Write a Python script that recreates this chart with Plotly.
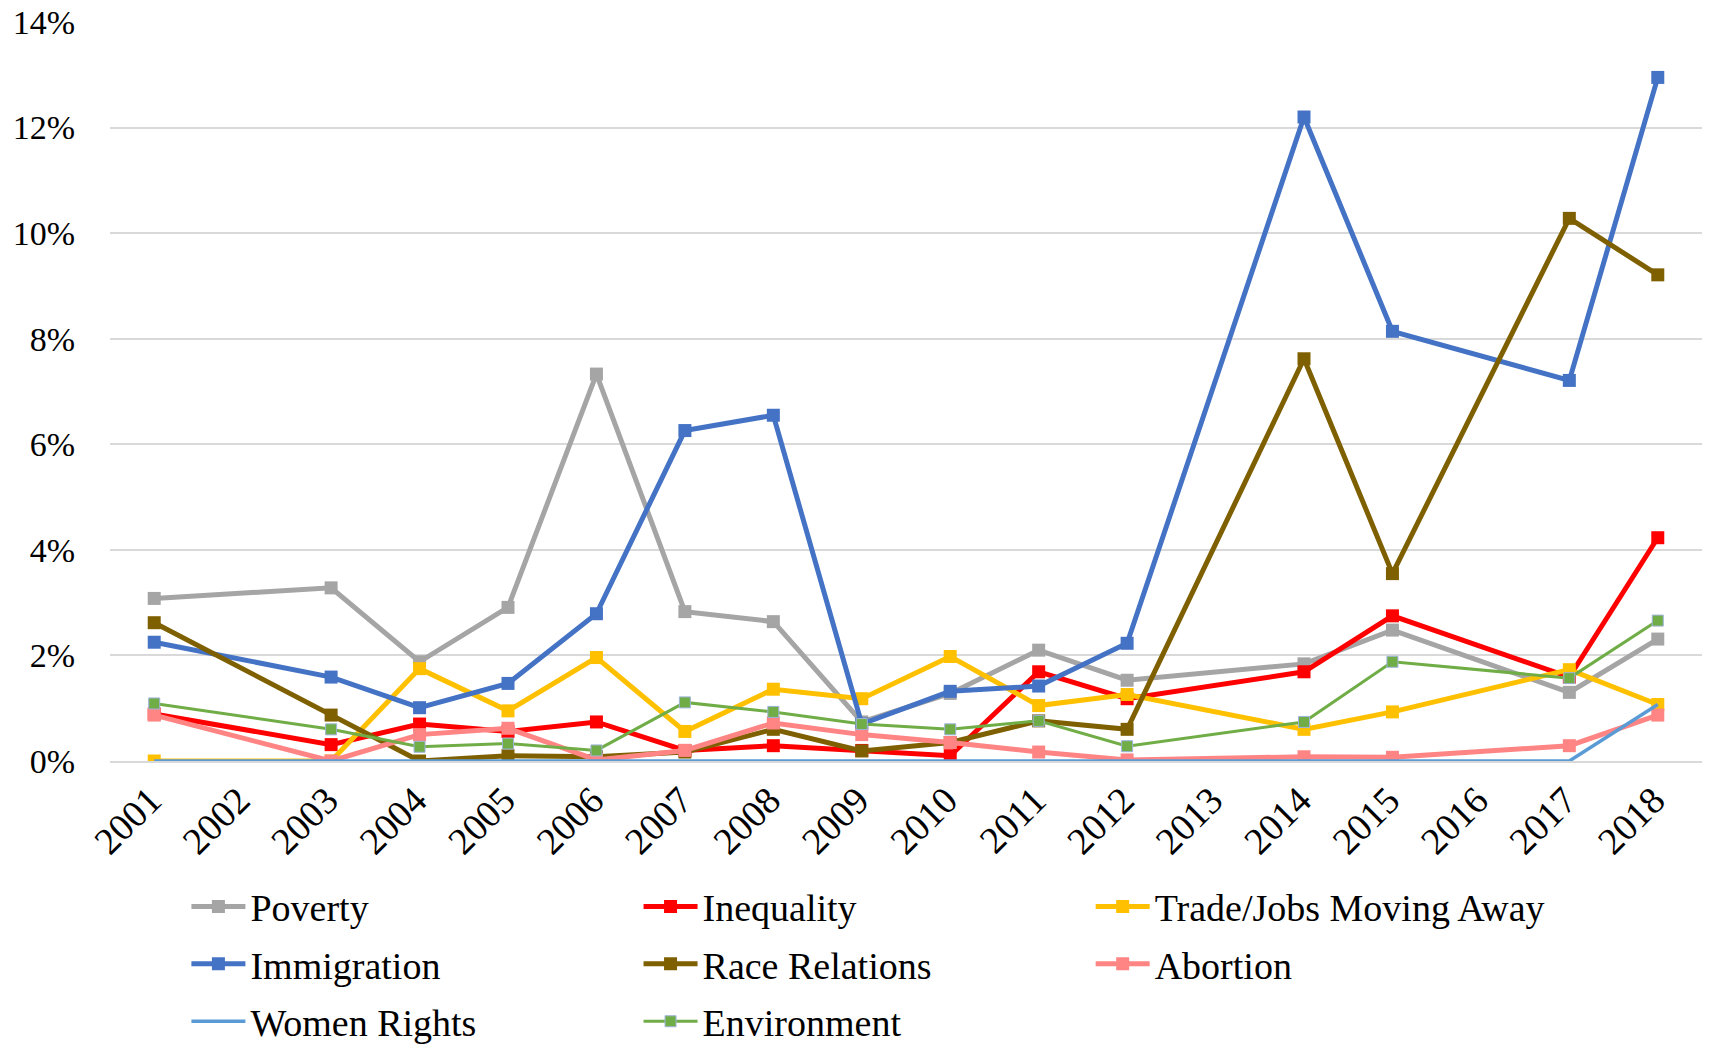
import plotly.graph_objects as go

years = ["2001", "2002", "2003", "2004", "2005", "2006", "2007", "2008", "2009",
         "2010", "2011", "2012", "2013", "2014", "2015", "2016", "2017", "2018"]

N = None
poverty      = [3.08, N, 3.28, 1.88, 2.91, 7.33, 2.83, 2.64, 0.74, 1.28, 2.10, 1.53, N, 1.84, 2.48, N, 1.30, 2.31]
inequality   = [0.89, N, 0.31, 0.70, 0.56, 0.74, 0.20, 0.29, 0.20, 0.10, 1.69, 1.18, N, 1.69, 2.75, N, 1.59, 4.23]
trade_jobs   = [0.00, N, 0.00, 1.75, 0.95, 1.96, 0.56, 1.36, 1.18, 1.98, 1.05, 1.26, N, 0.60, 0.93, N, 1.73, 1.07]
immigration  = [2.25, N, 1.59, 1.01, 1.47, 2.79, 6.26, 6.55, 0.70, 1.32, 1.42, 2.23, N, 12.20, 8.14, N, 7.21, 12.95]
race_rel     = [2.62, N, 0.87, 0.00, 0.10, 0.08, 0.17, 0.60, 0.19, 0.35, 0.76, 0.60, N, 7.62, 3.55, N, 10.28, 9.21]
abortion     = [0.87, N, 0.00, 0.50, 0.62, 0.02, 0.20, 0.72, 0.50, 0.35, 0.17, 0.02, N, 0.08, 0.07, N, 0.29, 0.87]
women_rights = [0.00, N, 0.00, 0.00, 0.00, 0.00, 0.00, 0.00, 0.00, 0.00, 0.00, 0.00, N, 0.00, 0.00, N, 0.00, 1.07]
environment  = [1.09, N, 0.60, 0.27, 0.33, 0.20, 1.11, 0.93, 0.70, 0.60, 0.76, 0.28, N, 0.74, 1.88, N, 1.57, 2.66]

y_ticks = [0, 0.02, 0.04, 0.06, 0.08, 0.10, 0.12, 0.14]

def pct(v):
    return [None if x is None else x / 100 for x in v]

FONT = "Liberation Serif, Times New Roman, serif"

series = [
    ("Poverty", poverty, "#a5a5a5", 5, 13, "legend", True),
    ("Inequality", inequality, "#ff0000", 5, 13, "legend2", True),
    ("Trade/Jobs Moving Away", trade_jobs, "#ffc000", 5, 13, "legend3", True),
    ("Immigration", immigration, "#4472c4", 5, 13, "legend", True),
    ("Race Relations", race_rel, "#7f6000", 5, 13, "legend2", True),
    ("Abortion", abortion, "#ff8585", 5, 13, "legend3", True),
    ("Women Rights", women_rights, "#5b9bd5", 3.5, 0, "legend", False),
    ("Environment", environment, "#70ad47", 3, 11, "legend2", True),
]

fig = go.Figure()
for i, (name, vals, color, lw, ms, leg, mk) in enumerate(series):
    marker = dict(symbol="square", size=ms, color=color)
    if name == "Environment":
        marker["line"] = dict(color="#9fb3dd", width=1)
    fig.add_trace(go.Scatter(
        x=years, y=pct(vals), name=name,
        mode="lines+markers" if mk else "lines",
        line=dict(color=color, width=lw),
        marker=marker,
        connectgaps=True,
        legend=leg,
        legendgroup=name,
    ))

leg_common = dict(
    orientation="v", xanchor="left", yanchor="top",
    font=dict(family=FONT, size=38, color="black"),
    bgcolor="rgba(0,0,0,0)", itemwidth=54, tracegroupgap=5,
    traceorder="grouped",
)
LEG_Y = -0.1546
fig.update_layout(
    width=1709, height=1045,
    margin=dict(l=110, r=7, t=22, b=284, autoexpand=False),
    paper_bgcolor="white", plot_bgcolor="white",
    font=dict(family=FONT, size=34, color="black"),
    showlegend=True,
    legend=dict(x=0.048, y=LEG_Y, **leg_common),
    legend2=dict(x=0.332, y=LEG_Y, **leg_common),
    legend3=dict(x=0.616, y=LEG_Y, **leg_common),
    xaxis=dict(
        type="category", categoryorder="array", categoryarray=years,
        range=[-0.5, 17.5], tickangle=-45, showgrid=False,
        showline=True, linecolor="#d9d9d9", linewidth=1.5,
        ticks="", automargin=False, ticklabelshift=-4,
        tickfont=dict(family=FONT, size=38, color="black"),
    ),
    yaxis=dict(
        range=[0, 0.14], tickvals=y_ticks, tickformat=".0%",
        showgrid=True, gridcolor="#d9d9d9", gridwidth=1.5,
        zeroline=False, showline=False, ticks="", automargin=False,
        ticklabelstandoff=34,
        tickfont=dict(family=FONT, size=34, color="black"),
    ),
)

fig.write_html("out.html")
